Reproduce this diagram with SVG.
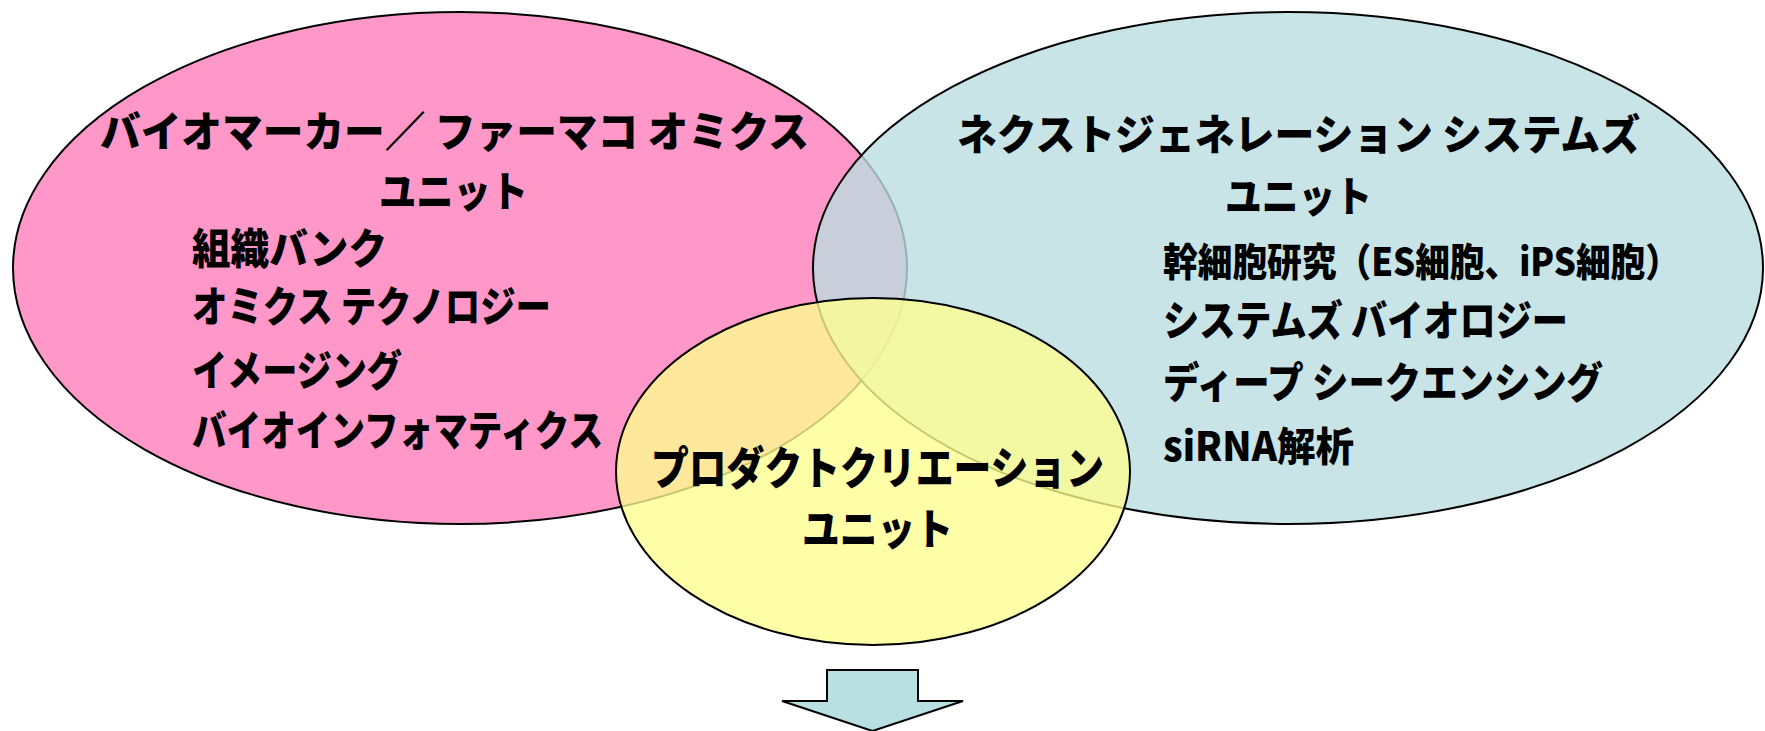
<svg xmlns="http://www.w3.org/2000/svg" width="1765" height="731" viewBox="0 0 1765 731">
<style>
.t{font-family:"Noto Sans CJK JP","Noto Sans CJK SC",sans-serif;font-weight:900;fill:#000;font-size:42px;}
.e{stroke:#000;stroke-width:2;}
</style>
<rect width="1765" height="731" fill="#fff"/>
<g id="node-biomarker">
<ellipse class="e" cx="460" cy="268" rx="447" ry="256" fill="#FF97C9"/>
<text class="t" x="100" y="147" textLength="709" lengthAdjust="spacingAndGlyphs">バイオマーカー／ ファーマコ オミクス</text>
<text class="t" x="379" y="207" textLength="149" lengthAdjust="spacingAndGlyphs">ユニット</text>
<text class="t" x="192" y="264" textLength="195" lengthAdjust="spacingAndGlyphs">組織バンク</text>
<text class="t" x="192" y="322" textLength="359" lengthAdjust="spacingAndGlyphs">オミクス テクノロジー</text>
<text class="t" x="192" y="386" textLength="210" lengthAdjust="spacingAndGlyphs">イメージング</text>
<text class="t" x="192" y="446" textLength="411" lengthAdjust="spacingAndGlyphs">バイオインフォマティクス</text>
</g>
<g id="node-nextgen">
<ellipse class="e" cx="1288" cy="268" rx="475" ry="256" fill="#BADDE0" fill-opacity="0.8"/>
<text class="t" x="957" y="150" textLength="683" lengthAdjust="spacingAndGlyphs">ネクストジェネレーション システムズ</text>
<text class="t" x="1225" y="212" textLength="147" lengthAdjust="spacingAndGlyphs">ユニット</text>
<text class="t" x="1163" y="276" style="font-size:39px" textLength="517" lengthAdjust="spacingAndGlyphs">幹細胞研究（ES細胞、iPS細胞）</text>
<text class="t" x="1163" y="336" textLength="405" lengthAdjust="spacingAndGlyphs">システムズ バイオロジー</text>
<text class="t" x="1163" y="398" textLength="440" lengthAdjust="spacingAndGlyphs">ディープ シークエンシング</text>
<text class="t" x="1163" y="461" style="font-size:40px" textLength="191" lengthAdjust="spacingAndGlyphs">siRNA解析</text>
</g>
<g id="node-product">
<ellipse class="e" cx="873" cy="471.5" rx="257" ry="173.5" fill="#FFFF8F" fill-opacity="0.78"/>
<text class="t" x="651" y="485" style="font-size:45px" textLength="453" lengthAdjust="spacingAndGlyphs">プロダクトクリエーション</text>
<text class="t" x="802" y="545" style="font-size:43px" textLength="151" lengthAdjust="spacingAndGlyphs">ユニット</text>
</g>
<g id="connectors">
<path d="M827,670 H918 V701 H963 L872.5,731 L782,701 H827 Z" fill="#B8DFE2" stroke="#000" stroke-width="2" stroke-linejoin="miter"/>
</g>
</svg>
